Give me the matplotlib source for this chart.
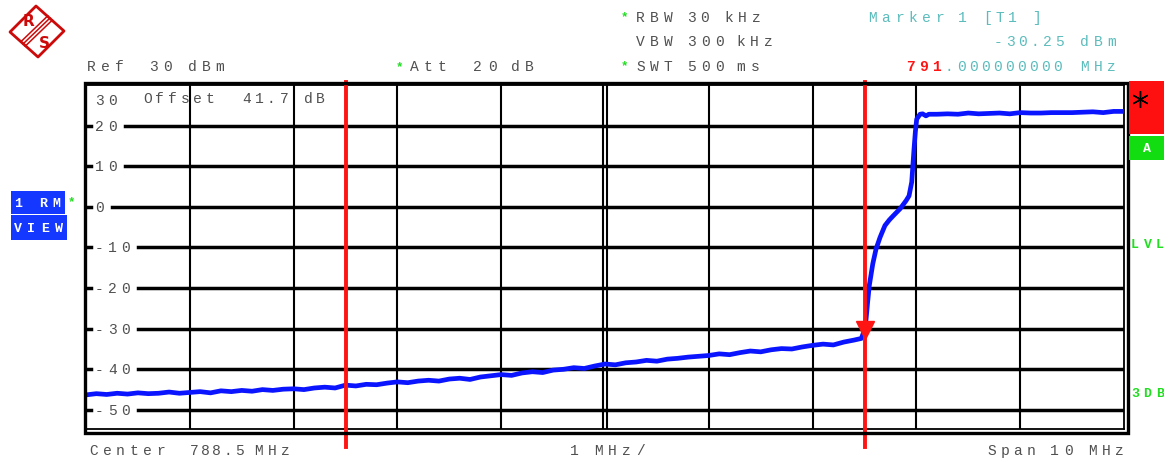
import matplotlib
matplotlib.use("Agg")
import matplotlib.pyplot as plt
from matplotlib.patches import Rectangle, Polygon

# ---- analyzer settings -------------------------------------------------
center_mhz = 788.5
span_mhz = 10.0
ref_level_dbm = 30.0
bottom_level_dbm = -54.7
level_ticks = [20, 10, 0, -10, -20, -30, -40, -50]
level_labels = ["20", "10", "0", "-10", "-20", "-30", "-40", "-50"]

marker_mhz = 791.0
marker_dbm = -30.25
line_f1_mhz = 786.0

# ---- trace (RM view) ---------------------------------------------------
trace_mhz = [
    783.5, 783.6, 783.7, 783.8, 783.9, 784.0, 784.1, 784.2, 784.3, 784.4,
    784.5, 784.6, 784.7, 784.8, 784.9, 785.0, 785.1, 785.2, 785.3, 785.4,
    785.5, 785.6, 785.7, 785.8, 785.9, 786.0, 786.1, 786.2, 786.3, 786.4,
    786.5, 786.6, 786.7, 786.8, 786.9, 787.0, 787.1, 787.2, 787.3, 787.4,
    787.5, 787.6, 787.7, 787.8, 787.9, 788.0, 788.1, 788.2, 788.3, 788.4,
    788.5, 788.6, 788.7, 788.8, 788.9, 789.0, 789.1, 789.2, 789.3, 789.4,
    789.5, 789.6, 789.7, 789.8, 789.9, 790.0, 790.1, 790.2, 790.3, 790.4,
    790.5, 790.6, 790.7, 790.8, 790.9, 790.97,
    791.0, 791.015, 791.03, 791.046, 791.08, 791.111, 791.15, 791.197,
    791.24, 791.277, 791.342, 791.40, 791.429, 791.455, 791.477, 791.49,
    791.503, 791.535, 791.56, 791.592, 791.62,
    791.7, 791.8, 791.9, 792.0, 792.1, 792.2, 792.3, 792.4, 792.5, 792.6,
    792.7, 792.8, 792.9, 793.0, 793.1, 793.2, 793.3, 793.4, 793.5,
]
trace_dbm = [
    -46.3, -46.0, -46.2, -45.9, -46.1, -45.8, -46.0, -45.9, -45.6, -45.9,
    -45.7, -45.5, -45.8, -45.3, -45.5, -45.2, -45.4, -45.0, -45.2, -44.9,
    -44.8, -45.0, -44.6, -44.4, -44.6, -43.9, -44.1, -43.7, -43.8, -43.4,
    -43.1, -43.3, -42.9, -42.7, -42.9, -42.4, -42.2, -42.5, -41.9, -41.6,
    -41.3, -41.5, -40.9, -40.6, -40.8, -40.2, -40.0, -39.6, -39.8, -39.2,
    -38.7, -38.9, -38.4, -38.2, -37.8, -38.0, -37.5, -37.3, -37.0, -36.8,
    -36.6, -36.2, -36.4, -35.9, -35.5, -35.7, -35.2, -34.9, -35.0, -34.5,
    -34.1, -33.8, -34.0, -33.3, -32.8, -32.4,
    -30.25, -27.7, -23.5, -19.4, -14.0, -10.4, -7.5, -4.6,
    -3.2, -2.2, -0.5, 1.5, 2.7, 6.1, 14.2, 18.5,
    21.6, 22.8, 22.9, 22.4, 22.8,
    22.8, 22.9, 22.8, 23.1, 22.9, 23.0, 23.1, 22.9, 23.2, 23.1,
    23.1, 23.2, 23.2, 23.2, 23.3, 23.4, 23.2, 23.5, 23.5,
]

# ---- colours / fonts ---------------------------------------------------
TXT = "#505050"
TEAL = "#5cbcbc"
RED = "#ff1414"
BLUE = "#0a14ff"
GREEN = "#22dd22"
MONO = "Liberation Mono"

W, H = 1164, 460
fig = plt.figure(figsize=(W / 100, H / 100), dpi=100)
fig.patch.set_facecolor("white")


def fx(x):
    return x / W


def fy(y):
    return 1 - y / H


# main graticule axes
ax = fig.add_axes([fx(86), fy(430), fx(1124) - fx(86), fy(86) - fy(430)])
f_lo = center_mhz - span_mhz / 2
f_hi = center_mhz + span_mhz / 2
ax.set_xlim(f_lo, f_hi)
ax.set_ylim(bottom_level_dbm, ref_level_dbm)
ax.set_xticks([])
ax.set_yticks([])
for sp in ax.spines.values():
    sp.set_linewidth(1.3)
    sp.set_color("black")

# vertical divisions (1 MHz/div), centre line doubled
for i in range(1, 10):
    f = f_lo + i * span_mhz / 10
    if abs(f - center_mhz) < 1e-9:
        ax.axvline(f - 0.018, color="black", lw=1.5, zorder=1)
        ax.axvline(f + 0.018, color="black", lw=1.5, zorder=1)
    else:
        ax.axvline(f, color="black", lw=1.5, zorder=1)

# horizontal divisions, each broken where its level label sits
pitch_lbl = 13.0
ax_w_px = 1124 - 86
for lvl, lab in zip(level_ticks, level_labels):
    start_px = 95 + len(lab) * pitch_lbl + 4
    ax.axhline(lvl, xmin=(start_px - 86) / ax_w_px, xmax=1, color="black",
               lw=2.5, zorder=1)
    ax.axhline(lvl, xmin=0, xmax=5 / ax_w_px, color="black", lw=2.5, zorder=1)

# trace
ax.plot(trace_mhz, trace_dbm, color=BLUE, lw=3.4, solid_joinstyle="round",
        solid_capstyle="round", zorder=3)

# frequency lines and marker
ax.axvline(line_f1_mhz, ymin=-0.052, ymax=1.01, color=RED, lw=2.8,
           clip_on=False, zorder=4)
ax.axvline(marker_mhz, ymin=-0.052, ymax=1.01, color=RED, lw=2.8,
           clip_on=False, zorder=4)
ax.plot([marker_mhz], [marker_dbm], marker="v", ms=13, color=RED,
        markeredgecolor=RED, zorder=5, clip_on=False)

# ---- annotation overlay in pixel space ---------------------------------
ov = fig.add_axes([0, 0, 1, 1], zorder=10)
ov.set_xlim(0, W)
ov.set_ylim(H, 0)
ov.axis("off")


def tracked(x, y, s, pitch=13.6, color=TXT, size=10.5, weight="normal",
            family=MONO):
    for i, ch in enumerate(s):
        if ch != " ":
            ov.text(x + i * pitch, y, ch, ha="left", va="center",
                    color=color, fontsize=size, fontweight=weight,
                    family=family)


# outer double frame
ov.add_patch(Rectangle((84.5, 83.5), 1043, 350, fill=False, lw=2.4,
                       edgecolor="black"))

# header rows
tracked(87, 67, "Ref", 14)
tracked(149, 67, "30", 14.5)
tracked(188, 67, "dBm", 13.5)
tracked(396, 67, "*", color=GREEN, weight="bold", size=9)
tracked(410, 67, "Att", 14)
tracked(473, 67, "20", 15)
tracked(511, 67, "dB", 14)

tracked(621, 17, "*", color=GREEN, weight="bold", size=9)
tracked(636, 18, "RBW", 14)
tracked(687, 18, "30", 13.5)
tracked(724, 18, "kHz", 14)
tracked(636, 42, "VBW", 14)
tracked(687, 42, "300", 14)
tracked(736, 42, "kHz", 14)
tracked(621, 66, "*", color=GREEN, weight="bold", size=9)
tracked(636, 67, "SWT", 14)
tracked(687, 67, "500", 14)
tracked(736, 67, "ms", 15)

tracked(868, 18, "Marker", 13.4, color=TEAL)
tracked(958, 18, "1", color=TEAL)
tracked(983, 18, "[T1", 12.5, color=TEAL)
tracked(1032, 18, "]", color=TEAL)
tracked(994, 42, "-30.25", 12.3, color=TEAL)
tracked(1080, 42, "dBm", 13.5, color=TEAL)
tracked(906, 67, "791", 13.2, color=RED, weight="bold")
tracked(945, 67, ".000000000", 12.0, color=TEAL)
tracked(1080, 67, "MHz", 13.5, color=TEAL)

# labels inside the graticule
tracked(95, 101, "30", pitch_lbl)
tracked(143, 99, "Offset", 12.5)
tracked(242, 99, "41.7", 12.5)
tracked(304, 99, "dB", 11.5)
for lvl, lab in zip(level_ticks, level_labels):
    y_px = 86 + (ref_level_dbm - lvl) * (430 - 86) / (ref_level_dbm - bottom_level_dbm)
    tracked(95, y_px, lab, pitch_lbl)

# footer
tracked(89, 451, "Center", 13.5)
tracked(190, 451, "788.5", 11.2)
tracked(254, 451, "MHz", 13.5)
tracked(570, 451, "1", 14)
tracked(594, 451, "MHz/", 14)
tracked(987, 451, "Span", 13.2)
tracked(1050, 451, "10", 14.5)
tracked(1088, 451, "MHz", 13.5)

# trace info boxes on the left
ov.add_patch(Rectangle((11, 192), 54, 23, facecolor="#1438ff", edgecolor="none"))
ov.add_patch(Rectangle((11, 216), 56, 25, facecolor="#1438ff", edgecolor="none"))
tracked(14, 204, "1", color="white", weight="bold", size=9.5)
tracked(39, 204, "RM", 13.5, color="white", weight="bold", size=9.5)
tracked(14, 229, "VIEW", 13.5, color="white", weight="bold", size=9.5)
tracked(68, 202, "*", color=GREEN, weight="bold", size=9)

# status column on the right
ov.add_patch(Rectangle((1129, 82), 35, 53, facecolor="#ff1010", edgecolor="none"))
ov.plot([1140], [100], marker=(6, 2, 0), ms=12, color="black", mew=1.0)
ov.add_patch(Rectangle((1129, 137), 35, 24, facecolor="#11dd11", edgecolor="none"))
ov.text(1147, 149, "A", ha="center", va="center", color="white",
        fontsize=9.5, fontweight="bold", family=MONO)
tracked(1131, 245, "LVL", 12.5, color=GREEN, weight="bold", size=9.5)
tracked(1131, 394, "3DB", 12.5, color=GREEN, weight="bold", size=9.5)

# company logo
LOGO = "#cc0a0a"
ov.add_patch(Polygon([(10, 33), (36, 7), (64, 32), (38, 58)], closed=True,
                     fill=False, edgecolor=LOGO, lw=2.0, joinstyle="round"))
for d in (-2.2, 0, 2.2):
    ov.plot([23 + d, 50 + d], [45 + d, 19 + d], color=LOGO, lw=1.1)
ov.text(28, 22, "R", ha="center", va="center", color=LOGO, fontsize=11,
        fontweight="bold", family="DejaVu Sans")
ov.text(44, 43, "S", ha="center", va="center", color=LOGO, fontsize=11,
        fontweight="bold", family="DejaVu Sans")

fig.savefig("out.png", dpi=100, facecolor="white")
